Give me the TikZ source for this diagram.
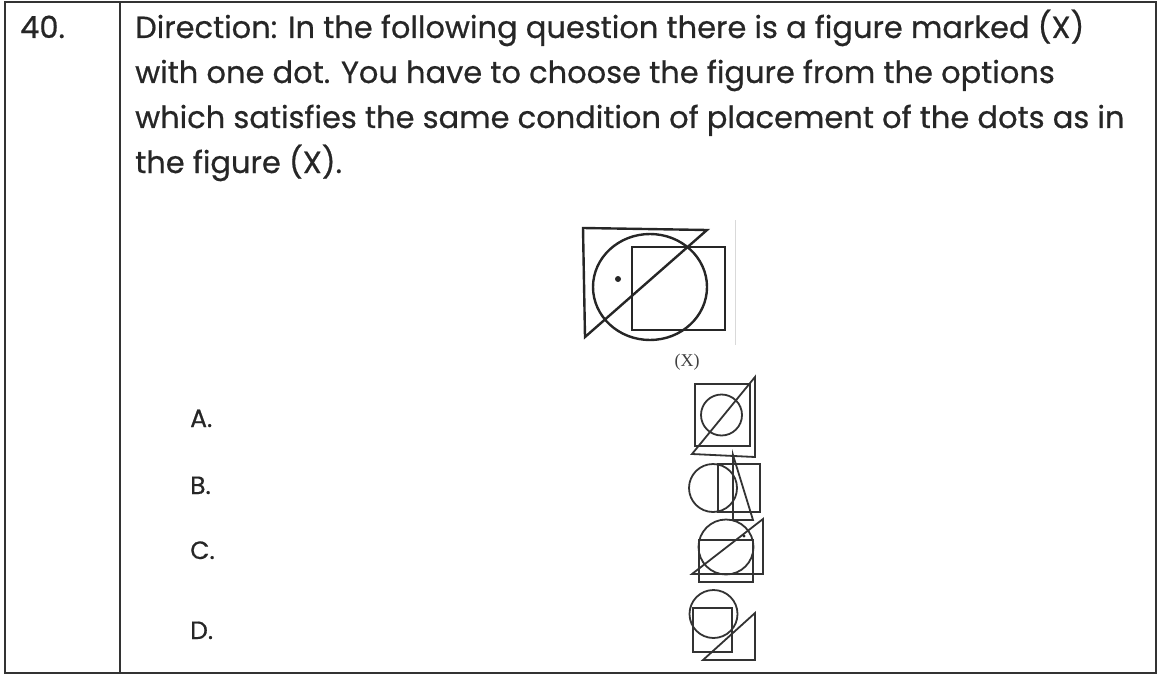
\documentclass[tikz,border=0pt]{standalone}
\usepackage{fontspec}
\setmainfont{Poppins}[FakeBold=0.6]
\newfontfamily\labfont{Liberation Serif}
\begin{document}
\begin{tikzpicture}[x=1pt,y=-1pt,
  txt/.style={anchor=base west,inner sep=0pt,font=\fontsize{30.5}{34}\selectfont,text=black!85},
  opt/.style={anchor=base west,inner sep=0pt,font=\fontsize{25}{28}\selectfont,text=black!85},
  fig/.style={draw=black!85,line width=2.4pt,line join=miter},
  thinfig/.style={draw=black!80,line width=1.8pt,line join=miter}]
\useasboundingbox (0,0) rectangle (1161,674);
% table
\draw[line width=1.3pt,draw=black!80] (5,2) rectangle (1156,673);
\draw[line width=1.3pt,draw=black!80] (120,2) -- (120,673);
\node[txt] (num) at (20,38) {40.};
\node[txt] (l1) at (135,38) {Direction: In the following question there is a figure marked (X)};
\node[txt] (l2) at (135,83) {with one dot. You have to choose the figure from the options};
\node[txt] (l3) at (135,128) {which satisfies the same condition of placement of the dots as in};
\node[txt] (l4) at (135,173) {the figure (X).};
% figure X
\draw[fig] (583,228) -- (707,230) -- (585,337) -- cycle;
\draw[fig] (650,287) ellipse [x radius=57,y radius=53];
\draw[fig] (632,247) rectangle (725,330);
\fill[black!85] (618,279) circle (3pt);
\node[inner sep=0pt,font=\labfont\fontsize{18}{20}\selectfont,text=black!75] (xl) at (687,362) {(X)};
\draw[black!15,line width=0.8pt] (735,220) -- (735,345);
% option labels
\node[opt] (la) at (190,427) {A.};
\node[opt] (lb) at (190,494) {B.};
\node[opt] (lc) at (190,559) {C.};
\node[opt] (ld) at (190,639) {D.};
% option A
\draw[thinfig] (695,384) rectangle (750,446);
\draw[thinfig] (721.5,415) circle (20.5);
\draw[thinfig] (692,454) -- (755,377) -- (755,457) -- cycle;
% option B
\draw[thinfig] (713,488) circle (24);
\draw[thinfig] (718,464) rectangle (760,512);
\draw[thinfig] (733,455) -- (733,520) -- (753,520) -- cycle;
% option C
\draw[thinfig] (726,547) circle (27.5);
\draw[thinfig] (699,540) rectangle (753,582);
\draw[thinfig] (763,519) -- (763,574) -- (692,574) -- cycle;
\fill[black!85] (744,536) circle (1.6pt);
% option D
\draw[thinfig] (713.5,614) circle (24);
\draw[thinfig] (693,608) rectangle (732,652);
\draw[thinfig] (755,613) -- (755,660) -- (703,660) -- cycle;
\end{tikzpicture}
\end{document}
